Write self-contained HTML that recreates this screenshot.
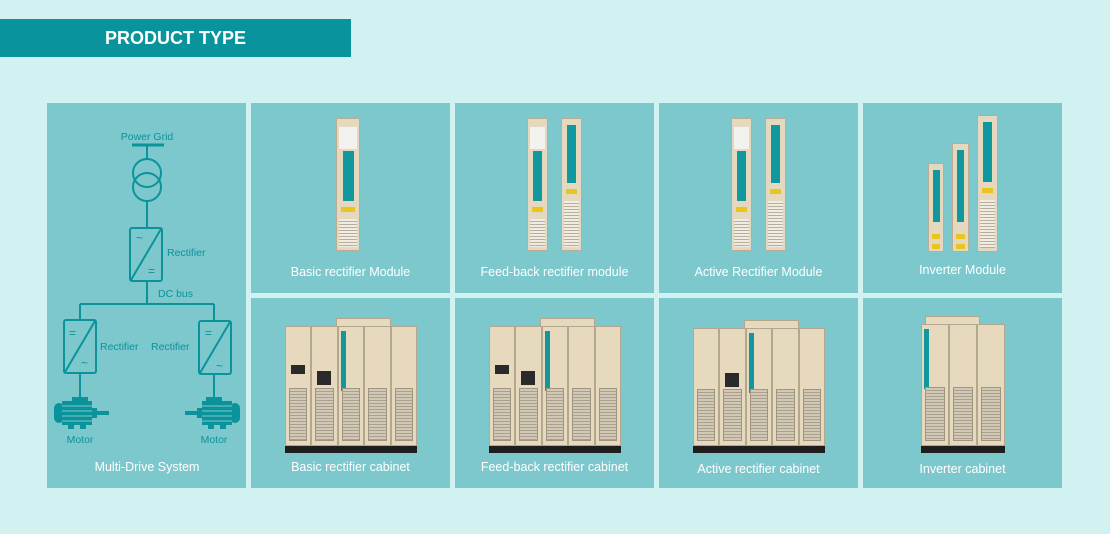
<!DOCTYPE html>
<html><head><meta charset="utf-8"><style>
*{margin:0;padding:0;box-sizing:border-box}
body{width:1110px;height:534px;background:#d2f1f1;position:relative;overflow:hidden;font-family:"Liberation Sans",sans-serif}
.hdr{position:absolute;left:0;top:19px;width:351px;height:38px;background:#08939d;color:#fff;font-weight:bold;font-size:18px;line-height:38px;text-align:center}
.c{position:absolute;background:#7cc8cc;width:199px;height:190px}
.lb{position:absolute;left:0;width:100%;text-align:center;color:#fff;font-size:12.5px}
.m{position:absolute;background:#e4d8be;border:1px solid #b9ad95}
.m .s{position:absolute;left:25%;right:25%;background:#11979e}
.m .w{position:absolute;left:10%;right:10%;background:#f4f2ee}
.m .y{position:absolute;left:20%;right:20%;height:5px;background:#e8c520}
.m .b{position:absolute;left:8%;right:8%;background:repeating-linear-gradient(#f0ece4 0 2px,#b8ae9c 2px 3px)}
.cab{position:absolute;display:flex;border-bottom:7px solid #1e1e1e}
.p{flex:1;background:#e6d9bd;border:1px solid #b3a78e;position:relative}
.p .g{position:absolute;left:3px;right:3px;bottom:4px;height:45%;background:repeating-linear-gradient(#d2c8b6 0 2px,#aaa08e 2px 3px);border:1px solid #a0967f}
.p .h{position:absolute;left:30%;right:30%;height:2px;background:#333}
.p .k{position:absolute;background:#2a2a2a}
.top{position:absolute;background:#e6d9bd;border:1px solid #b3a78e}
.ts{position:absolute;width:5px;background:#11979e}
</style></head><body>
<div class="hdr">PRODUCT TYPE</div>

<div class="c" style="left:47px;top:103px;height:385px"></div>
<svg style="position:absolute;left:0;top:0" width="1110" height="534">
<g stroke="#0b939b" stroke-width="2" fill="none">
<line x1="132" y1="145" x2="164" y2="145" stroke-width="3"/>
<line x1="147" y1="145" x2="147" y2="159"/>
<circle cx="147" cy="173" r="14"/><circle cx="147" cy="187" r="14"/>
<line x1="147" y1="201" x2="147" y2="228"/>
<rect x="130" y="228" width="32" height="53" rx="2"/>
<line x1="131" y1="280" x2="161" y2="229"/>
<line x1="147" y1="281" x2="147" y2="304"/>
<line x1="80" y1="304" x2="214" y2="304"/>
<line x1="80" y1="304" x2="80" y2="320"/><line x1="214" y1="304" x2="214" y2="321"/>
<rect x="64" y="320" width="32" height="53" rx="2"/>
<line x1="65" y1="372" x2="95" y2="321"/>
<rect x="199" y="321" width="32" height="53" rx="2"/>
<line x1="200" y1="373" x2="230" y2="322"/>
<line x1="80" y1="373" x2="80" y2="397"/><line x1="214" y1="374" x2="214" y2="397"/>
</g>
<g fill="#0b939b">
<rect x="72" y="397" width="16" height="6"/><rect x="54" y="403" width="10" height="20" rx="5"/><rect x="62" y="401" width="30" height="24"/><rect x="92" y="408" width="5" height="10"/><rect x="97" y="411" width="12" height="4"/><rect x="68" y="425" width="6" height="4"/><rect x="80" y="425" width="6" height="4"/>
<rect x="206" y="397" width="16" height="6"/><rect x="230" y="403" width="10" height="20" rx="5"/><rect x="202" y="401" width="30" height="24"/><rect x="197" y="408" width="5" height="10"/><rect x="185" y="411" width="12" height="4"/><rect x="208" y="425" width="6" height="4"/><rect x="220" y="425" width="6" height="4"/>
</g>
<g stroke="#7cc8cc" stroke-width="1"><line x1="62" y1="406" x2="92" y2="406"/><line x1="62" y1="411" x2="92" y2="411"/><line x1="62" y1="416" x2="92" y2="416"/><line x1="62" y1="421" x2="92" y2="421"/><line x1="202" y1="406" x2="232" y2="406"/><line x1="202" y1="411" x2="232" y2="411"/><line x1="202" y1="416" x2="232" y2="416"/><line x1="202" y1="421" x2="232" y2="421"/></g>
<g fill="#0b939b" font-family="Liberation Sans,sans-serif" font-size="10.5">
<text x="147" y="140" text-anchor="middle">Power Grid</text>
<text x="167" y="256">Rectifier</text>
<text x="158" y="297">DC bus</text>
<text x="100" y="350">Rectifier</text>
<text x="151" y="350">Rectifier</text>
<text x="80" y="443" text-anchor="middle">Motor</text>
<text x="214" y="443" text-anchor="middle">Motor</text>
<text x="136" y="242" font-size="12">~</text><text x="148" y="275" font-size="12">=</text>
<text x="69" y="337" font-size="12">=</text><text x="81" y="367" font-size="12">~</text>
<text x="205" y="337" font-size="12">=</text><text x="216" y="370" font-size="12">~</text>
</g>
<text x="147" y="471" text-anchor="middle" fill="#fff" font-family="Liberation Sans,sans-serif" font-size="12.5">Multi-Drive System</text>
</svg>

<div class="c" style="left:251px;top:103px"><div class="lb" style="top:162px">Basic rectifier Module</div></div>
<div class="c" style="left:455px;top:103px"><div class="lb" style="top:162px">Feed-back rectifier module</div></div>
<div class="c" style="left:659px;top:103px"><div class="lb" style="top:162px">Active Rectifier Module</div></div>
<div class="c" style="left:863px;top:103px"><div class="lb" style="top:160px">Inverter Module</div></div>
<div class="c" style="left:251px;top:298px"><div class="lb" style="top:162px">Basic rectifier cabinet</div></div>
<div class="c" style="left:455px;top:298px"><div class="lb" style="top:162px">Feed-back rectifier cabinet</div></div>
<div class="c" style="left:659px;top:298px"><div class="lb" style="top:164px">Active rectifier cabinet</div></div>
<div class="c" style="left:863px;top:298px"><div class="lb" style="top:164px">Inverter cabinet</div></div>

<!-- modules -->
<div class="m" style="left:336px;top:118px;width:24px;height:133px"><div class="w" style="top:8px;height:22px"></div><div class="s" style="top:32px;height:50px"></div><div class="y" style="top:88px"></div><div class="b" style="top:100px;height:28px"></div></div>
<div class="m" style="left:527px;top:118px;width:21px;height:133px"><div class="w" style="top:8px;height:22px"></div><div class="s" style="top:32px;height:50px"></div><div class="y" style="top:88px"></div><div class="b" style="top:100px;height:28px"></div></div>
<div class="m" style="left:561px;top:118px;width:21px;height:133px"><div class="s" style="top:6px;height:58px"></div><div class="y" style="top:70px"></div><div class="b" style="top:82px;height:46px"></div></div>
<div class="m" style="left:731px;top:118px;width:21px;height:133px"><div class="w" style="top:8px;height:22px"></div><div class="s" style="top:32px;height:50px"></div><div class="y" style="top:88px"></div><div class="b" style="top:100px;height:28px"></div></div>
<div class="m" style="left:765px;top:118px;width:21px;height:133px"><div class="s" style="top:6px;height:58px"></div><div class="y" style="top:70px"></div><div class="b" style="top:82px;height:46px"></div></div>
<div class="m" style="left:928px;top:163px;width:16px;height:89px"><div class="s" style="top:6px;height:52px"></div><div class="y" style="top:70px"></div><div class="y" style="top:80px"></div></div>
<div class="m" style="left:952px;top:143px;width:17px;height:109px"><div class="s" style="top:6px;height:72px"></div><div class="y" style="top:90px"></div><div class="y" style="top:100px"></div></div>
<div class="m" style="left:977px;top:115px;width:21px;height:137px"><div class="s" style="top:6px;height:60px"></div><div class="y" style="top:72px"></div><div class="b" style="top:84px;height:48px"></div></div>

<!-- cabinets -->
<div class="top" style="left:336px;top:318px;width:55px;height:9px"></div>
<div class="cab" style="left:285px;top:326px;width:132px;height:127px"><div class="p"><div class="k" style="left:5px;top:38px;width:14px;height:9px"></div><div class="h" style="top:62px"></div><div class="g"></div></div><div class="p"><div class="k" style="left:5px;top:44px;width:14px;height:14px"></div><div class="h" style="top:62px"></div><div class="g"></div></div><div class="p"><div class="ts" style="left:2px;top:4px;height:60px"></div><div class="h" style="top:62px"></div><div class="g"></div></div><div class="p"><div class="h" style="top:62px"></div><div class="g"></div></div><div class="p"><div class="h" style="top:62px"></div><div class="g"></div></div></div>
<div class="top" style="left:540px;top:318px;width:55px;height:9px"></div>
<div class="cab" style="left:489px;top:326px;width:132px;height:127px"><div class="p"><div class="k" style="left:5px;top:38px;width:14px;height:9px"></div><div class="h" style="top:62px"></div><div class="g"></div></div><div class="p"><div class="k" style="left:5px;top:44px;width:14px;height:14px"></div><div class="h" style="top:62px"></div><div class="g"></div></div><div class="p"><div class="ts" style="left:2px;top:4px;height:60px"></div><div class="h" style="top:62px"></div><div class="g"></div></div><div class="p"><div class="h" style="top:62px"></div><div class="g"></div></div><div class="p"><div class="h" style="top:62px"></div><div class="g"></div></div></div>
<div class="top" style="left:744px;top:320px;width:55px;height:9px"></div>
<div class="cab" style="left:693px;top:328px;width:132px;height:125px"><div class="p"><div class="h" style="top:62px"></div><div class="g"></div></div><div class="p"><div class="k" style="left:5px;top:44px;width:14px;height:14px"></div><div class="h" style="top:62px"></div><div class="g"></div></div><div class="p"><div class="ts" style="left:2px;top:4px;height:60px"></div><div class="h" style="top:62px"></div><div class="g"></div></div><div class="p"><div class="h" style="top:62px"></div><div class="g"></div></div><div class="p"><div class="h" style="top:62px"></div><div class="g"></div></div></div>
<div class="top" style="left:925px;top:316px;width:55px;height:9px"></div>
<div class="cab" style="left:921px;top:324px;width:84px;height:129px"><div class="p"><div class="ts" style="left:2px;top:4px;height:60px"></div><div class="h" style="top:62px"></div><div class="g"></div></div><div class="p"><div class="h" style="top:62px"></div><div class="g"></div></div><div class="p"><div class="h" style="top:62px"></div><div class="g"></div></div></div>
</body></html>
